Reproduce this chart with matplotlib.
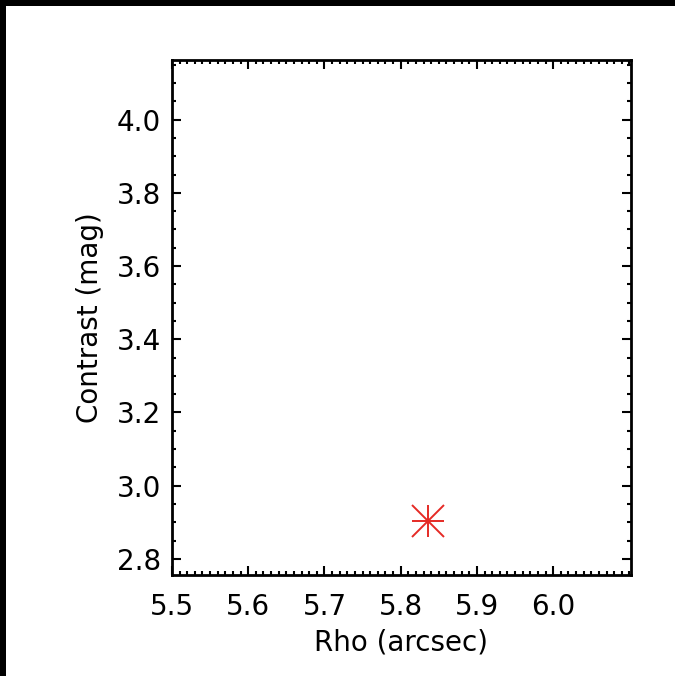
import matplotlib
matplotlib.use("Agg")
import matplotlib.pyplot as plt
from matplotlib.patches import Rectangle
from matplotlib.ticker import MultipleLocator

# data
rho = [5.836]
contrast = [2.904]
xticks = [5.5, 5.6, 5.7, 5.8, 5.9, 6.0]
yticks = [2.8, 3.0, 3.2, 3.4, 3.6, 3.8, 4.0]

W, H = 675, 676
fig = plt.figure(figsize=(W / 100, H / 100), dpi=100)
fig.patch.set_facecolor("white")

# black frame strips along the top and left edge
fig.patches.append(Rectangle((0, 1 - 6 / H), 1, 6 / H, transform=fig.transFigure,
                             facecolor="black", edgecolor="none", zorder=0))
fig.patches.append(Rectangle((0, 0), 6 / W, 1, transform=fig.transFigure,
                             facecolor="black", edgecolor="none", zorder=0))

ax = fig.add_axes([172 / W, 1 - 575 / H, (631 - 172) / W, (575 - 60) / H])

red = "#e52a25"
ax.plot(rho, contrast, linestyle="none", marker="+", markersize=23,
        markeredgewidth=1.4, color=red)
ax.plot(rho, contrast, linestyle="none", marker="x", markersize=23,
        markeredgewidth=1.4, color=red)

ax.set_xlim(5.5, 6.102)
ax.set_ylim(2.756, 4.163)
ax.set_xticks(xticks)
ax.set_yticks(yticks)
ax.set_xticklabels([f"{v:.1f}" for v in xticks])
ax.set_yticklabels([f"{v:.1f}" for v in yticks])
ax.xaxis.set_minor_locator(MultipleLocator(0.01))
ax.yaxis.set_minor_locator(MultipleLocator(0.05))

for s in ax.spines.values():
    s.set_linewidth(2)

ax.tick_params(which="both", direction="in", top=True, right=True,
               width=1.5, labelsize=20, colors="black")
ax.tick_params(which="major", length=6.5)
ax.tick_params(which="minor", length=3.2)
ax.tick_params(axis="x", which="major", pad=13)
ax.tick_params(axis="y", which="major", pad=8)

ax.set_xlabel("Rho (arcsec)", fontsize=20)
ax.set_ylabel("Contrast (mag)", fontsize=20)
ax.xaxis.label.set_va("center")
ax.yaxis.label.set_va("center")
ax.xaxis.set_label_coords(0.5, -(642 - 575) / (575 - 60))
ax.yaxis.set_label_coords(-(172 - 90) / (631 - 172), 0.5)

plt.savefig("out.png", dpi=100)
